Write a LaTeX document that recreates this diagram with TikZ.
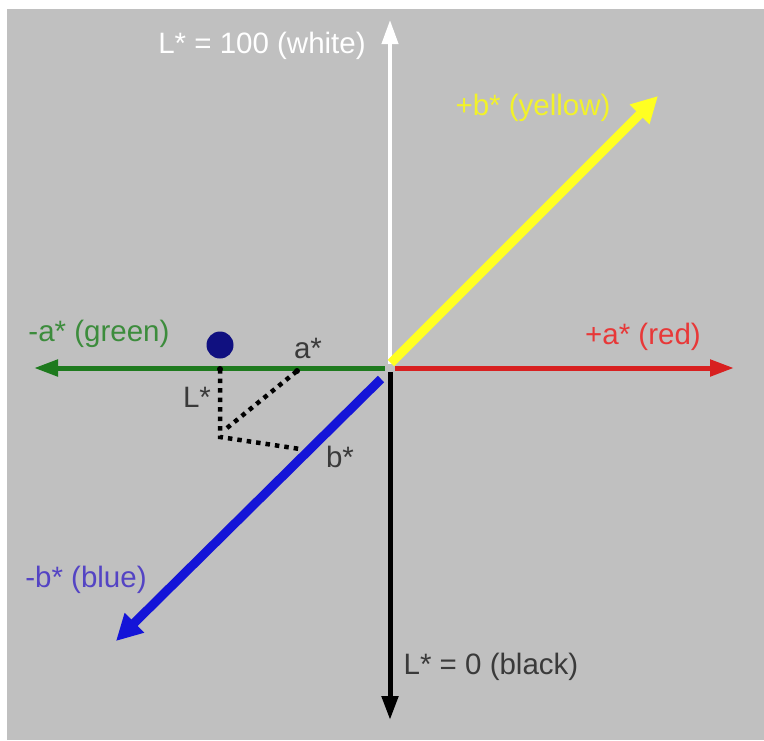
\documentclass[tikz,border=0pt]{standalone}
\usepackage{fontspec}
\setmainfont{Liberation Sans}
\usetikzlibrary{arrows.meta}
\definecolor{bg}{HTML}{C0C0C0}
\definecolor{axgreen}{HTML}{1E7A1E}
\definecolor{axred}{HTML}{D82020}
\definecolor{axyellow}{HTML}{FFFF22}
\definecolor{axblue}{HTML}{1414D8}
\definecolor{txgreen}{HTML}{3C8C3C}
\definecolor{txred}{HTML}{E83838}
\definecolor{txyellow}{HTML}{F2F22A}
\definecolor{txblue}{HTML}{5444C4}
\definecolor{txdark}{HTML}{3A3A3A}
\definecolor{dotnavy}{HTML}{101080}
\tikzset{
  lbl/.style={font=\fontsize{29.5}{32}\selectfont, inner sep=0pt},
  axis/.style={line width=5pt, -{Triangle[length=24pt,width=16pt]}},
  thickaxis/.style={line width=9pt, -{Triangle[length=26pt,width=26pt]}},
  guide/.style={black, line width=4.5pt, dash pattern=on 4.5pt off 5pt},
}
\begin{document}
\begin{tikzpicture}[x=1pt,y=-1pt]
\useasboundingbox (0,0) rectangle (764,740);
\fill[white] (0,0) rectangle (764,740);
\fill[bg] (7,9) rectangle (764,740);
% anchor coordinates
\coordinate (O) at (390,368);
\coordinate (Ow) at (390,364);
\coordinate (Ob) at (390,372);
\coordinate (Og) at (385,368);
\coordinate (Or) at (395,368);
\coordinate (Oy) at (391,363);
\coordinate (Obl) at (381,379);
\coordinate (Ptop) at (390,20);
\coordinate (Pbot) at (390,720);
\coordinate (Pleft) at (34,368);
\coordinate (Pright) at (734,368);
\coordinate (Pyel) at (658,96);
\coordinate (Pblu) at (116,641);
% axes
\draw[axis, white, line width=4pt] (Ow) -- (Ptop);
\draw[axis, black] (Ob) -- (Pbot);
\draw[axis, axgreen] (Og) -- (Pleft);
\draw[axis, axred] (Or) -- (Pright);
\draw[thickaxis, axyellow] (Oy) -- (Pyel);
\draw[thickaxis, axblue] (Obl) -- (Pblu);
% sample point and guides
\node[circle, fill=dotnavy, minimum size=27pt, inner sep=0pt] (pt) at (220,345) {};
\coordinate (Lt) at (220,369);
\coordinate (Lc) at (220,437);
\coordinate (Ac) at (227,428);
\coordinate (Ap) at (297,371);
\coordinate (Bp) at (300,449);
\draw[guide] (Lt) -- (Lc) -- (Bp);
\draw[guide] (Ac) -- (Ap);
\fill[black] (Lt) circle (3pt);
\fill[black] (Ap) circle (3pt);
% labels
\node[lbl, white] (lwhite) at (262,46) {L* = 100 (white)};
\node[lbl, txyellow] (lyellow) at (533,108) {+b* (yellow)};
\node[lbl, txgreen] (lgreen) at (99,334) {-a* (green)};
\node[lbl, txred] (lred) at (643,337) {+a* (red)};
\node[lbl, txblue] (lblue) at (86,580) {-b* (blue)};
\node[lbl, txdark] (lblack) at (491,667) {L* = 0 (black)};
\node[lbl, txdark] (la) at (308,348) {a*};
\node[lbl, txdark] (lL) at (197,397) {L*};
\node[lbl, txdark] (lb) at (340,457) {b*};
\end{tikzpicture}
\end{document}
